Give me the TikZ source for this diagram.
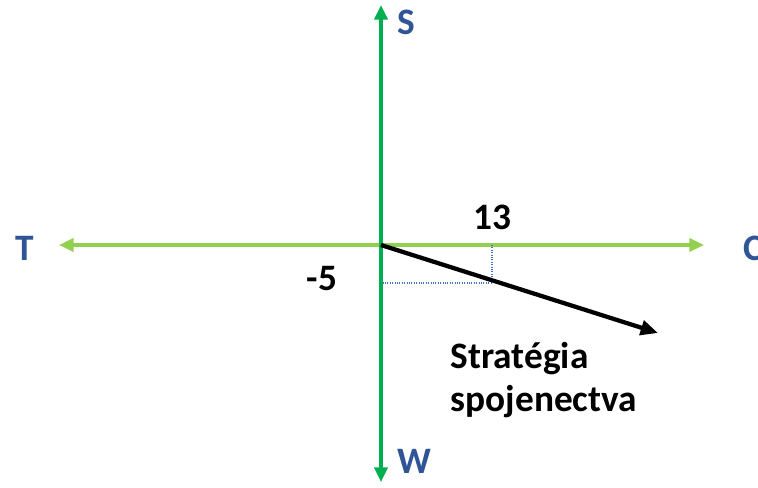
\documentclass[tikz,border=0pt]{standalone}
\usepackage{fontspec}
\setmainfont{Carlito}
\usetikzlibrary{arrows.meta}
\definecolor{vgreen}{HTML}{00B050}
\definecolor{hgreen}{HTML}{92D050}
\definecolor{slate}{HTML}{2F5597}
\definecolor{dotblue}{HTML}{4472C4}

\begin{document}
\begin{tikzpicture}[x=0.75pt,y=-0.75pt,
    axislab/.style={font=\fontsize{28}{32}\selectfont\bfseries,text=slate},
    numlab/.style={font=\fontsize{28}{32}\selectfont\bfseries}]
        \useasboundingbox (0,0) rectangle (758,487);
        % axes
        \coordinate (O) at (381,245);
        \coordinate (top) at (381,5);
        \coordinate (bot) at (381,482);
        \coordinate (left) at (59,245);
        \coordinate (right) at (704,245);
        \draw[line width=2.3pt,draw=hgreen,{Triangle[length=11pt,width=10pt]}-{Triangle[length=11pt,width=10pt]}] (left) -- (right);
        \draw[line width=2.3pt,draw=vgreen,{Triangle[length=11pt,width=10pt]}-{Triangle[length=11pt,width=10pt]}] (bot) -- (top);
        \node[axislab] (S) at (406,22) {S};
        \node[axislab] (W) at (414,461) {W};
        \node[axislab] (T) at (25,248) {T};
        \node[axislab] (C) at (753,248) {C};
        % projections
        \coordinate (px) at (492,245);
        \coordinate (py) at (381,283);
        \coordinate (P) at (492,283);
        \draw[dotblue,densely dotted,line width=0.8pt] (px) -- (P) -- (py);
        \node[numlab] (n13) at (492,217) {13};
        \node[numlab] (n5) at (322,279) {-5};
        % strategy vector
        \coordinate (tip) at (658,333);
        \draw[line width=3.2pt,-{Triangle[length=13pt,width=11pt]}] (O) -- (tip);
        \node[numlab,align=left,anchor=north west] (strat) at (446,338) {Stratégia\\spojenectva};
      \end{tikzpicture}
\end{document}
